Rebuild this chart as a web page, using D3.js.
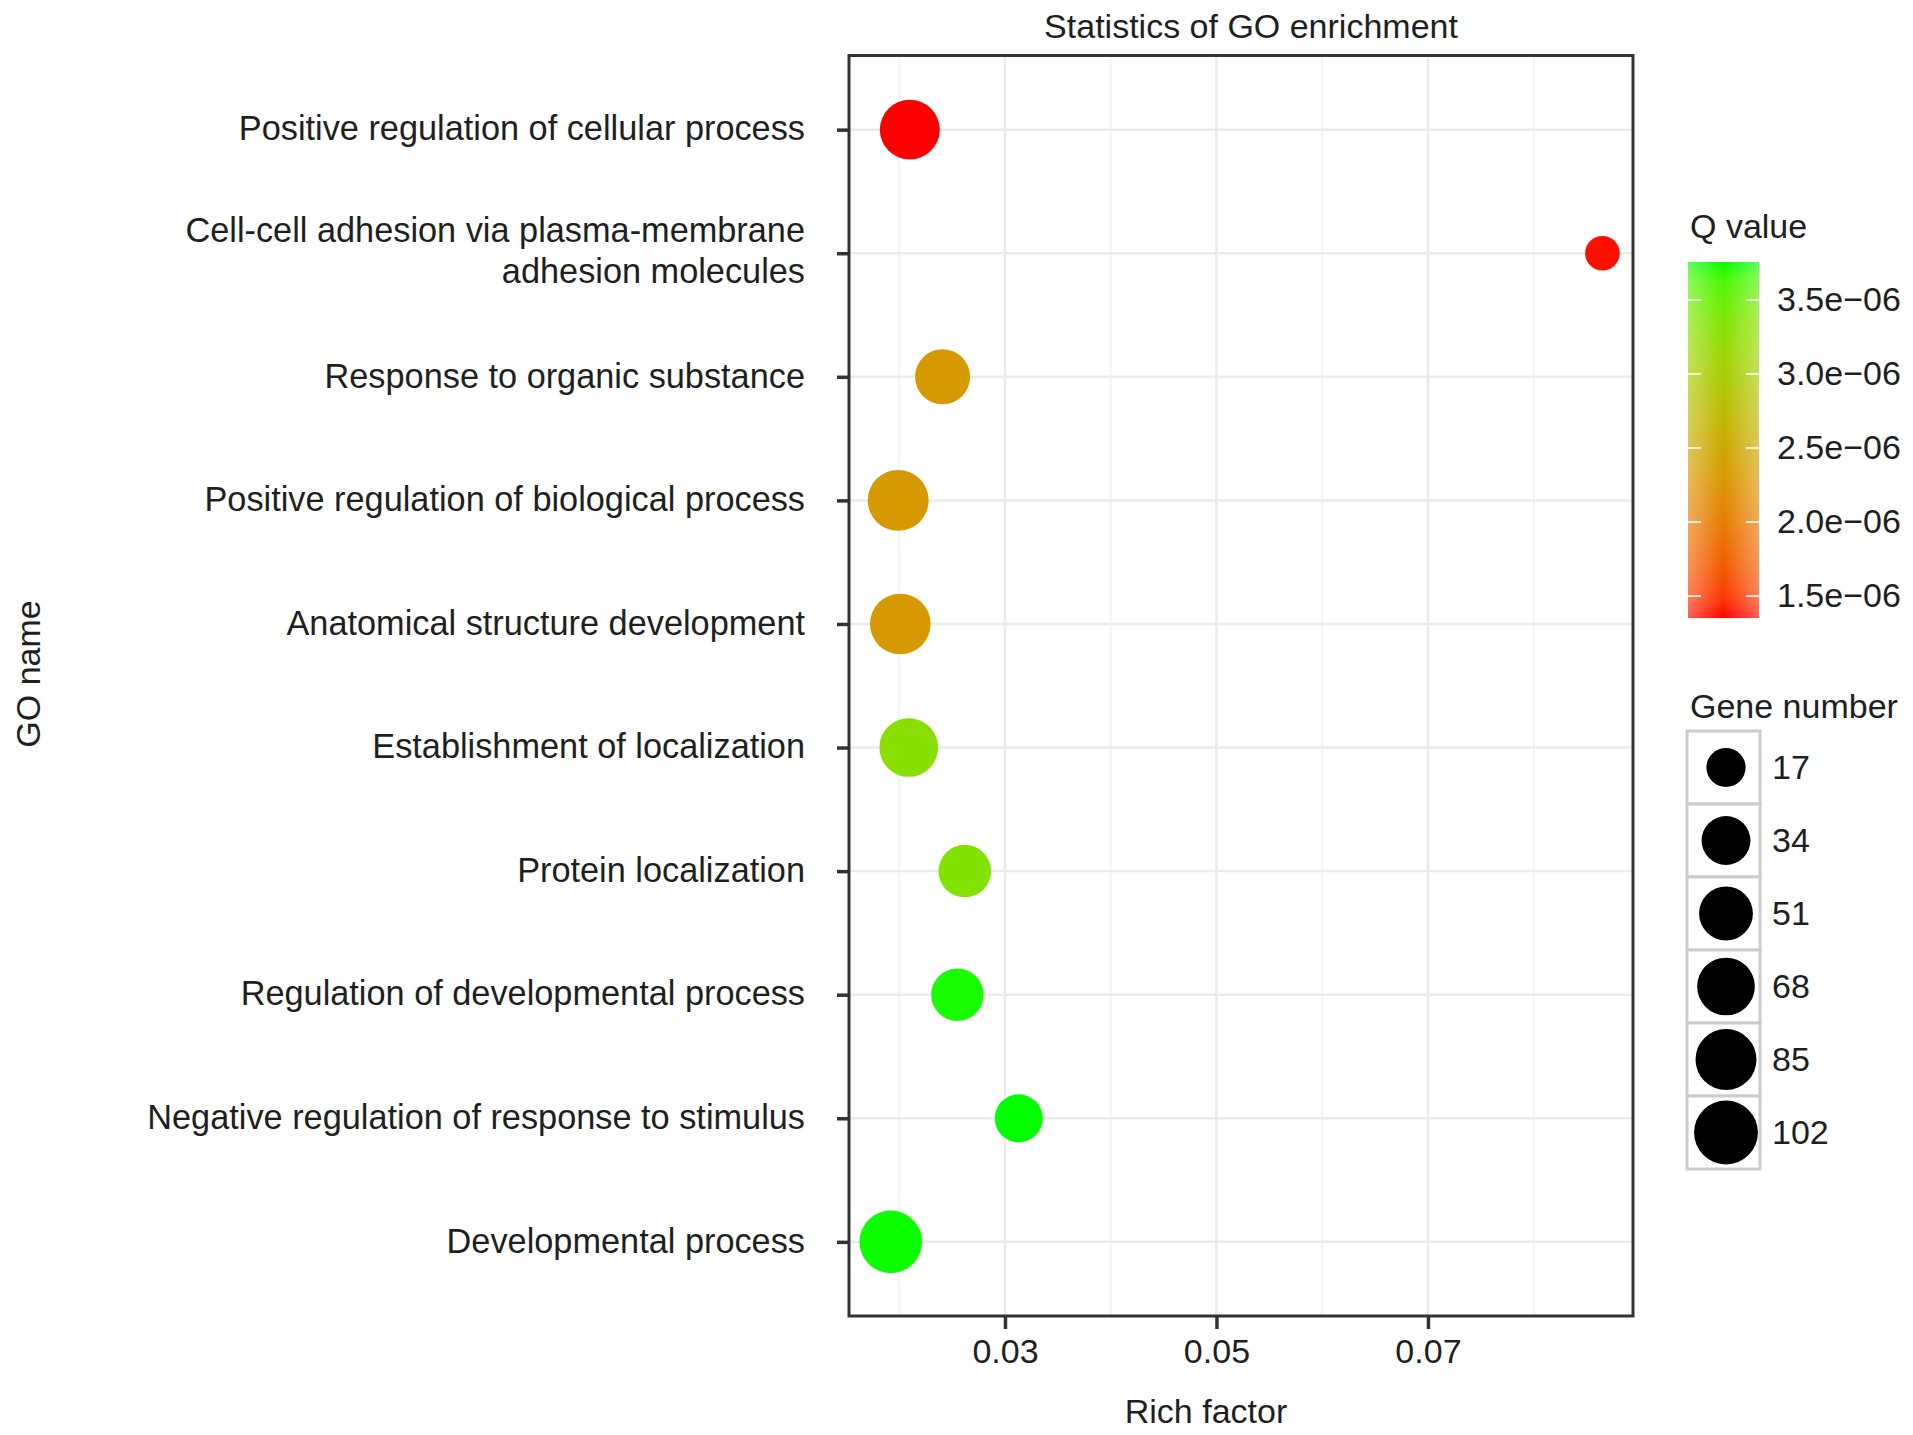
<!DOCTYPE html>
<html>
<head>
<meta charset="utf-8">
<script src="https://cdn.jsdelivr.net/npm/d3@7"></script>
<style>
body { margin: 0; background: #fff; }
text { font-family: "Liberation Sans", Arial, Helvetica, sans-serif; fill: #1f1f1f; }
</style>
</head>
<body>
<svg id="chart" width="1913" height="1435"></svg>
<script>
// GO terms, top to bottom
var goNames = [
    "Positive regulation of cellular process",
    "Cell-cell adhesion via plasma-membrane\nadhesion molecules",
    "Response to organic substance",
    "Positive regulation of biological process",
    "Anatomical structure development",
    "Establishment of localization",
    "Protein localization",
    "Regulation of developmental process",
    "Negative regulation of response to stimulus",
    "Developmental process"
];
var richFactor = [0.0210, 0.0865, 0.0241, 0.0199, 0.0201, 0.0209, 0.0262, 0.0255, 0.0313, 0.0192];
var qValue = [1.352e-6, 1.37e-6, 2.32e-6, 2.33e-6, 2.33e-6, 3.28e-6, 3.33e-6, 3.74e-6, 3.756e-6, 3.75e-6];
var geneNumber = [88, 16, 63, 94, 92, 81, 52, 52, 36, 104];

// axis / legend ticks
var xTicks = [0.03, 0.05, 0.07];
var xMinor = [0.02, 0.04, 0.06, 0.08];
var qTicks = [1.5e-6, 2.0e-6, 2.5e-6, 3.0e-6, 3.5e-6];
var sizeBreaks = [17, 34, 51, 68, 85, 102];

var rows = goNames.map(function(n, i) {
    return {name: n, rich: richFactor[i], q: qValue[i], genes: geneNumber[i]};
});

var svg = d3.select("#chart");
var panel = {left: 849, right: 1633, top: 55.5, bottom: 1316};

var x = d3.scaleLinear()
    .domain([0.01525, 0.08939])
    .range([panel.left, panel.right]);

var y = d3.scalePoint()
    .domain(goNames)
    .range([panel.top, panel.bottom])
    .padding(0.6);

var color = d3.scaleLinear()
    .domain(d3.extent(qValue))
    .range(["#ff0000", "#00ff00"])
    .interpolate(d3.interpolateLab);

// ggplot style area scale: sqrt of rescaled value
var sizeNorm = d3.scaleLinear().domain(d3.extent(geneNumber)).range([0, 1]);
var rScale = d3.scaleLinear().domain([0, 1]).range([17.3, 31.3]);
function radius(v) {
    return rScale(Math.sqrt(Math.max(0, sizeNorm(v))));
}

function sciLabel(v) {
    var e = Math.floor(Math.log10(v) + 1e-9);
    var m = v / Math.pow(10, e);
    var sign = e < 0 ? "\u2212" : "+";
    var ex = String(Math.abs(e));
    if (ex.length < 2) ex = "0" + ex;
    return m.toFixed(1) + "e" + sign + ex;
}

// grid
var grid = svg.append("g");
grid.selectAll(".minor").data(xMinor).enter()
    .append("line")
    .attr("x1", function(d) { return x(d); })
    .attr("x2", function(d) { return x(d); })
    .attr("y1", panel.top).attr("y2", panel.bottom)
    .attr("stroke", "#f4f4f4").attr("stroke-width", 2);
grid.selectAll(".major").data(xTicks).enter()
    .append("line")
    .attr("x1", function(d) { return x(d); })
    .attr("x2", function(d) { return x(d); })
    .attr("y1", panel.top).attr("y2", panel.bottom)
    .attr("stroke", "#ebebeb").attr("stroke-width", 2.5);
grid.selectAll(".hline").data(goNames).enter()
    .append("line")
    .attr("x1", panel.left).attr("x2", panel.right)
    .attr("y1", function(d) { return y(d); })
    .attr("y2", function(d) { return y(d); })
    .attr("stroke", "#ebebeb").attr("stroke-width", 2.5);

// points
svg.append("g").selectAll("circle")
    .data(rows).enter()
    .append("circle")
    .attr("cx", function(d) { return x(d.rich); })
    .attr("cy", function(d) { return y(d.name); })
    .attr("r", function(d) { return radius(d.genes); })
    .attr("fill", function(d) { return color(d.q); });

// panel border
svg.append("rect")
    .attr("x", panel.left).attr("y", panel.top)
    .attr("width", panel.right - panel.left)
    .attr("height", panel.bottom - panel.top)
    .attr("fill", "none").attr("stroke", "#333").attr("stroke-width", 3);

// axes
var gx = svg.append("g")
    .attr("transform", "translate(0," + panel.bottom + ")")
    .call(d3.axisBottom(x).tickValues(xTicks).tickFormat(d3.format(".2f")).tickSize(13).tickPadding(10));
gx.select(".domain").remove();
gx.selectAll(".tick line").attr("stroke", "#333").attr("stroke-width", 3.5);
gx.selectAll(".tick text").attr("font-size", 34).attr("fill", "#1f1f1f");

var gy = svg.append("g")
    .attr("transform", "translate(" + panel.left + ",0)")
    .call(d3.axisLeft(y).tickSize(12).tickPadding(32));
gy.select(".domain").remove();
gy.selectAll(".tick line").attr("stroke", "#333").attr("stroke-width", 3.5);
gy.selectAll(".tick text")
    .attr("font-size", 34.3).attr("fill", "#1f1f1f")
    .attr("dy", "0.3em")
    .each(function(d) {
        var lines = d.split("\n");
        if (lines.length < 2) return;
        var t = d3.select(this).text(null).attr("dy", null);
        var xPos = t.attr("x");
        lines.forEach(function(l, i) {
            t.append("tspan")
                .attr("x", xPos)
                .attr("dy", i === 0 ? "-0.33em" : "1.18em")
                .text(l);
        });
    });

// titles
svg.append("text")
    .attr("x", 1251).attr("y", 38)
    .attr("text-anchor", "middle").attr("font-size", 34)
    .text("Statistics of GO enrichment");
svg.append("text")
    .attr("x", 1206).attr("y", 1423)
    .attr("text-anchor", "middle").attr("font-size", 34)
    .text("Rich factor");
svg.append("text")
    .attr("transform", "translate(40,674) rotate(-90)")
    .attr("text-anchor", "middle").attr("font-size", 34)
    .text("GO name");

// colour bar legend
var bar = {x: 1688, y: 262, w: 71, h: 356};
var qY = d3.scaleLinear()
    .domain(d3.extent(qValue))
    .range([bar.y + bar.h, bar.y]);

var defs = svg.append("defs");
var grad = defs.append("linearGradient")
    .attr("id", "qgrad")
    .attr("x1", 0).attr("y1", 1).attr("x2", 0).attr("y2", 0);
d3.range(0, 1.0001, 0.05).forEach(function(t) {
    var q = qY.domain()[0] + t * (qY.domain()[1] - qY.domain()[0]);
    grad.append("stop").attr("offset", t).attr("stop-color", color(q));
});
var sheen = defs.append("linearGradient")
    .attr("id", "sheen")
    .attr("x1", 0).attr("y1", 0).attr("x2", 1).attr("y2", 0);
sheen.append("stop").attr("offset", 0).attr("stop-color", "#fff").attr("stop-opacity", 0.35);
sheen.append("stop").attr("offset", 0.5).attr("stop-color", "#fff").attr("stop-opacity", 0);
sheen.append("stop").attr("offset", 1).attr("stop-color", "#fff").attr("stop-opacity", 0.35);

svg.append("text")
    .attr("x", 1690).attr("y", 238).attr("font-size", 34)
    .text("Q value");
svg.append("rect")
    .attr("x", bar.x).attr("y", bar.y).attr("width", bar.w).attr("height", bar.h)
    .attr("fill", "url(#qgrad)");
svg.append("rect")
    .attr("x", bar.x).attr("y", bar.y).attr("width", bar.w).attr("height", bar.h)
    .attr("fill", "url(#sheen)");

var barTicks = svg.append("g");
qTicks.forEach(function(v) {
    barTicks.append("line")
        .attr("x1", bar.x).attr("x2", bar.x + 13)
        .attr("y1", qY(v)).attr("y2", qY(v))
        .attr("stroke", "#fff").attr("stroke-width", 1.5);
    barTicks.append("line")
        .attr("x1", bar.x + bar.w - 13).attr("x2", bar.x + bar.w)
        .attr("y1", qY(v)).attr("y2", qY(v))
        .attr("stroke", "#fff").attr("stroke-width", 1.5);
});

var gq = svg.append("g")
    .attr("transform", "translate(1777,0)")
    .call(d3.axisRight(qY).tickValues(qTicks).tickFormat(sciLabel).tickSize(0).tickPadding(0));
gq.select(".domain").remove();
gq.selectAll(".tick text").attr("font-size", 34).attr("fill", "#1f1f1f");

// size legend
svg.append("text")
    .attr("x", 1690).attr("y", 718).attr("font-size", 34)
    .text("Gene number");

var keyY = d3.scaleBand()
    .domain(sizeBreaks)
    .range([731, 1169]);

var keys = svg.append("g").selectAll("g")
    .data(sizeBreaks).enter()
    .append("g")
    .attr("transform", function(d) { return "translate(1687," + keyY(d) + ")"; });
keys.append("rect")
    .attr("width", 73).attr("height", keyY.bandwidth())
    .attr("fill", "#fff").attr("stroke", "#cccccc").attr("stroke-width", 3);
keys.append("circle")
    .attr("cx", 39).attr("cy", keyY.bandwidth() / 2)
    .attr("r", function(d) { return radius(d) + 0.8; })
    .attr("fill", "#000");
keys.append("text")
    .attr("x", 85).attr("y", keyY.bandwidth() / 2)
    .attr("dy", "0.35em").attr("font-size", 34)
    .text(function(d) { return d; });
</script>
</body>
</html>
